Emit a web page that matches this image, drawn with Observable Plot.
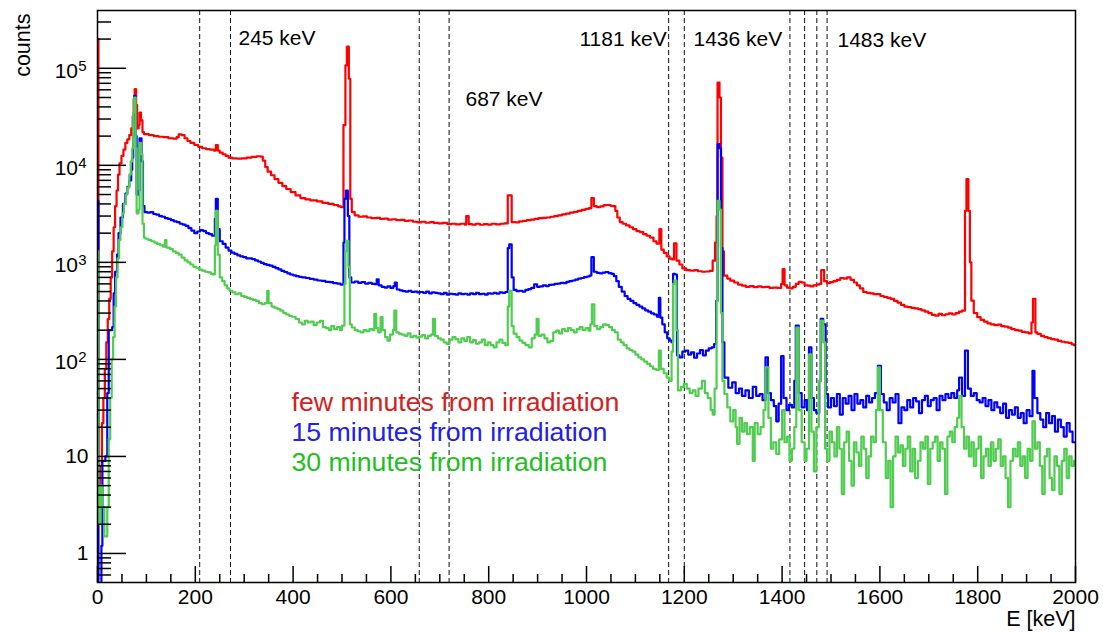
<!DOCTYPE html>
<html><head><meta charset="utf-8">
<script src="https://cdn.jsdelivr.net/npm/d3@7"></script>
<script src="https://cdn.jsdelivr.net/npm/@observablehq/plot@0.6"></script>
<style>html,body{margin:0;padding:0;background:#fff}svg{display:block}</style>
</head><body><div id="chart"></div>
<script>
// [bin start keV, counts] — histogram steps
const redSpectrum = [[0,2.0e5],[2,3],[5,8],[9,22],[12,40],[15,80],[18,150],[21,260],[24,420],[27,700],[30,1300],[33,2300],[36,3800],[39,5500],[42,8000],[45,1.05e4],[49,1.25e4],[53,1.45e4],[57,1.7e4],[61,1.85e4],[65,2.05e4],[69,2.4e4],[72,3.2e4],[74,4.8e4],[76,6.1e4],[79,4.2e4],[81,2.4e4],[84,2.6e4],[86,3.5e4],[89,2.9e4],[92,2.2e4],[95,2.1e4],[105,2.05e4],[115,2.0e4],[125,1.97e4],[135,1.95e4],[145,1.9e4],[155,1.88e4],[162,1.95e4],[166,2.08e4],[172,2.05e4],[178,1.9e4],[184,1.78e4],[190,1.7e4],[198,1.62e4],[206,1.55e4],[214,1.5e4],[222,1.47e4],[230,1.45e4],[238,1.42e4],[242,1.62e4],[246,1.42e4],[250,1.35e4],[256,1.3e4],[262,1.25e4],[268,1.2e4],[275,1.18e4],[285,1.17e4],[295,1.18e4],[305,1.2e4],[315,1.22e4],[325,1.24e4],[333,1.23e4],[338,1.12e4],[343,9.6e3],[348,8.6e3],[355,7.9e3],[362,7.2e3],[370,6.6e3],[378,6.1e3],[386,5.7e3],[395,5.3e3],[405,4.9e3],[415,4.6e3],[425,4.45e3],[435,4.35e3],[449,4.25e3],[460,4.1e3],[472,4.0e3],[483,3.9e3],[492,3.78e3],[498,3.7e3],[503,2.6e4],[507,1.07e5],[510,1.67e5],[514,7.8e4],[517,4.5e3],[520,3.3e3],[526,3.05e3],[534,2.95e3],[542,2.98e3],[551,2.9e3],[560,2.85e3],[570,2.88e3],[578,2.8e3],[586,2.82e3],[594,2.75e3],[602,2.78e3],[611,2.72e3],[620,2.74e3],[628,2.68e3],[636,2.7e3],[645,2.62e3],[654,2.58e3],[662,2.62e3],[671,2.56e3],[680,2.6e3],[688,2.55e3],[697,2.52e3],[706,2.55e3],[715,2.48e3],[724,2.5e3],[733,2.46e3],[742,2.5e3],[751,2.45e3],[754,3.0e3],[759,2.48e3],[766,2.45e3],[774,2.5e3],[782,2.44e3],[790,2.48e3],[798,2.45e3],[806,2.5e3],[815,2.46e3],[824,2.5e3],[832,2.52e3],[839,4.9e3],[847,2.6e3],[855,2.58e3],[862,2.65e3],[870,2.68e3],[878,2.72e3],[886,2.76e3],[894,2.8e3],[902,2.85e3],[910,2.88e3],[918,2.9e3],[926,2.95e3],[934,3.0e3],[942,3.05e3],[950,3.12e3],[958,3.18e3],[966,3.25e3],[974,3.32e3],[982,3.4e3],[990,3.48e3],[998,3.55e3],[1005,3.62e3],[1010,4.6e3],[1015,3.8e3],[1021,3.7e3],[1028,3.78e3],[1035,3.88e3],[1042,3.9e3],[1049,3.82e3],[1055,3.8e3],[1059,3.4e3],[1063,2.9e3],[1068,2.6e3],[1074,2.5e3],[1081,2.4e3],[1088,2.3e3],[1095,2.2e3],[1102,2.1e3],[1109,2.05e3],[1116,1.95e3],[1123,1.88e3],[1130,1.8e3],[1137,1.65e3],[1143,1.56e3],[1149,2.2e3],[1153,1.35e3],[1158,1.25e3],[1164,1.15e3],[1170,1.09e3],[1175,1.07e3],[1179,1.57e3],[1184,1.04e3],[1190,950],[1196,865],[1204,830],[1212,820],[1220,830],[1228,810],[1236,800],[1244,805],[1252,815],[1258,1.04e3],[1263,1.6e3],[1266,3.0e3],[1268,7.1e4],[1272,5.0e4],[1275,1.2e4],[1278,1.3e3],[1281,730],[1288,680],[1294,648],[1302,620],[1310,590],[1318,575],[1326,560],[1334,570],[1342,555],[1350,565],[1358,555],[1366,560],[1374,545],[1382,550],[1390,545],[1398,600],[1401,850],[1405,580],[1410,548],[1416,540],[1422,560],[1428,600],[1434,630],[1440,620],[1446,580],[1452,575],[1458,565],[1464,580],[1470,590],[1476,600],[1480,830],[1486,640],[1492,610],[1498,625],[1505,640],[1512,660],[1519,690],[1526,680],[1533,700],[1540,660],[1547,620],[1553,580],[1559,540],[1566,495],[1573,485],[1580,480],[1587,470],[1594,470],[1601,450],[1608,440],[1615,430],[1622,420],[1629,400],[1636,385],[1643,365],[1650,350],[1657,345],[1664,340],[1671,335],[1678,330],[1685,320],[1692,310],[1699,300],[1706,288],[1713,282],[1720,295],[1727,285],[1734,292],[1741,298],[1748,290],[1755,300],[1762,310],[1768,318],[1774,3.4e3],[1777,7.2e3],[1781,3.4e3],[1784,1.0e3],[1787,403],[1792,300],[1799,272],[1806,255],[1813,245],[1820,235],[1827,230],[1834,225],[1841,228],[1848,220],[1855,218],[1862,212],[1869,205],[1876,200],[1883,198],[1890,192],[1897,190],[1904,185],[1910,240],[1913,420],[1918,190],[1922,183],[1929,175],[1936,170],[1943,166],[1950,162],[1957,160],[1964,155],[1971,152],[1978,150],[1985,148],[1992,143],[1997,140],[2000,140]];

const blueSpectrum = [[0,4.3e3],[2,0.3],[8,1.2],[10,9],[16,10],[20,45],[23,200],[30,215],[33,480],[36,800],[40,1.2e3],[43,2.0e3],[47,2.9e3],[52,4.0e3],[57,5.1e3],[61,6.0e3],[65,7.0e3],[69,9.0e3],[71,1.2e4],[73,3.0e4],[75,5.2e4],[78,2.0e4],[80,5.0e3],[84,5.5e3],[86,1.9e4],[90,1.1e4],[93,3.8e3],[96,3.3e3],[102,3.25e3],[108,3.3e3],[114,3.15e3],[120,3.1e3],[126,3.0e3],[132,2.95e3],[138,2.85e3],[144,2.8e3],[150,2.72e3],[156,2.65e3],[162,2.6e3],[168,2.5e3],[174,2.45e3],[180,2.38e3],[186,2.25e3],[192,2.12e3],[198,2.0e3],[204,2.08e3],[210,2.15e3],[216,2.1e3],[222,2.0e3],[228,1.95e3],[234,1.88e3],[240,2.8e3],[242,4.5e3],[246,2.2e3],[250,1.65e3],[256,1.55e3],[262,1.42e3],[268,1.32e3],[274,1.26e3],[280,1.22e3],[286,1.18e3],[292,1.15e3],[298,1.13e3],[304,1.1e3],[310,1.1e3],[316,1.08e3],[322,1.05e3],[328,1.02e3],[334,990],[340,960],[346,940],[352,925],[358,900],[364,870],[370,845],[376,815],[382,795],[388,770],[394,750],[400,735],[406,720],[412,710],[418,700],[426,690],[434,675],[442,665],[450,650],[458,645],[466,630],[474,625],[482,610],[490,605],[497,590],[503,1.6e3],[505,4.5e3],[508,5.5e3],[512,3.0e3],[515,700],[519,620],[526,635],[533,615],[540,625],[547,605],[554,615],[561,600],[567,595],[571,670],[575,580],[581,560],[587,550],[593,565],[599,545],[605,570],[608,620],[612,525],[618,515],[624,505],[630,500],[636,510],[642,495],[648,500],[654,490],[660,495],[666,485],[672,500],[678,480],[684,490],[690,485],[696,480],[702,470],[708,485],[714,465],[720,475],[726,470],[732,465],[738,480],[744,470],[750,475],[756,465],[762,480],[768,470],[774,485],[780,470],[786,475],[792,465],[798,480],[804,475],[810,485],[816,475],[822,490],[828,485],[834,495],[839,1.4e3],[842,1.53e3],[847,700],[851,520],[857,505],[863,510],[869,500],[875,520],[881,530],[887,545],[893,595],[899,560],[905,565],[911,580],[917,570],[923,585],[929,590],[935,600],[941,605],[947,615],[953,610],[959,630],[965,640],[971,650],[977,665],[983,680],[989,690],[995,705],[1001,715],[1006,730],[1010,1.13e3],[1015,800],[1021,780],[1027,770],[1033,785],[1039,795],[1045,775],[1051,760],[1056,720],[1061,640],[1066,560],[1072,500],[1078,450],[1084,420],[1090,400],[1096,380],[1102,365],[1108,350],[1114,335],[1120,320],[1126,310],[1132,298],[1138,290],[1144,275],[1148,430],[1151,270],[1155,230],[1160,190],[1165,165],[1170,156],[1174,150],[1177,760],[1181,750],[1185,110],[1190,105],[1196,120],[1202,123],[1208,112],[1214,118],[1220,104],[1226,115],[1232,125],[1238,110],[1244,123],[1250,130],[1256,133],[1261,144],[1265,400],[1268,1.65e4],[1272,1.5e4],[1275,1.4e3],[1278,150],[1282,65],[1290,51],[1298,58],[1305,45],[1312,50],[1318,42],[1325,48],[1332,40],[1340,52],[1347,42],[1354,44],[1360,38],[1366,105],[1371,45],[1377,38],[1383,33],[1388,23],[1393,35],[1398,108],[1403,40],[1409,30],[1414,34],[1420,32],[1425,60],[1428,223],[1434,45],[1440,32],[1446,38],[1451,30],[1455,133],[1460,40],[1465,30],[1470,28],[1476,60],[1479,262],[1484,230],[1489,44],[1494,32],[1500,40],[1506,33],[1512,44],[1518,27],[1524,40],[1530,35],[1536,42],[1542,30],[1548,44],[1554,35],[1560,38],[1566,32],[1572,42],[1578,36],[1584,40],[1590,45],[1596,86],[1602,44],[1608,36],[1614,30],[1620,40],[1626,36],[1632,44],[1638,22],[1644,32],[1650,30],[1656,38],[1662,32],[1668,40],[1674,37],[1680,28],[1686,38],[1692,42],[1698,33],[1704,38],[1710,40],[1716,30],[1722,42],[1728,38],[1734,44],[1740,40],[1746,45],[1752,40],[1758,48],[1762,65],[1768,42],[1774,123],[1780,50],[1786,42],[1792,45],[1798,38],[1804,36],[1810,40],[1816,33],[1822,38],[1828,30],[1834,36],[1840,32],[1846,28],[1852,35],[1858,25],[1864,30],[1870,27],[1876,32],[1882,25],[1888,28],[1894,22],[1900,30],[1906,26],[1912,76],[1916,40],[1922,28],[1928,24],[1934,20],[1940,28],[1946,22],[1952,26],[1958,18],[1964,24],[1970,20],[1976,16],[1982,22],[1988,18],[1994,14],[2000,14]];

const greenSpectrum = [[0,1.3e3],[2,2],[6,5],[10,3],[14,1.5],[17,1.5],[20,3],[23,15],[26,40],[29,100],[32,170],[35,350],[38,700],[41,1.1e3],[44,1.7e3],[47,2.3e3],[51,3.2e3],[54,4.0e3],[58,5.0e3],[61,5.9e3],[65,8.0e3],[68,1.1e4],[71,1.5e4],[73,3.5e4],[75,5.0e4],[78,1.5e4],[80,3.2e3],[84,3.5e3],[86,1.7e4],[89,1.3e4],[92,2.5e3],[95,1.8e3],[98,1.75e3],[104,1.7e3],[110,1.65e3],[116,1.6e3],[122,1.55e3],[128,1.5e3],[134,1.45e3],[138,1.7e3],[141,1.42e3],[148,1.38e3],[154,1.3e3],[160,1.25e3],[166,1.2e3],[172,1.12e3],[178,1.05e3],[184,1.0e3],[190,950],[196,900],[202,880],[208,840],[214,820],[220,800],[226,790],[232,760],[236,750],[240,1.5e3],[242,3.4e3],[246,1.2e3],[250,700],[255,640],[260,580],[265,540],[270,510],[276,490],[282,470],[288,480],[294,450],[300,440],[306,430],[312,420],[318,410],[324,400],[330,380],[336,370],[342,380],[347,510],[350,380],[356,350],[362,340],[368,330],[374,318],[380,300],[386,290],[392,280],[398,275],[405,262],[412,240],[418,230],[424,250],[430,240],[436,245],[442,225],[448,240],[455,250],[461,215],[467,210],[473,200],[478,220],[484,205],[490,215],[496,200],[500,223],[505,600],[507,1.3e3],[509,1.67e3],[513,900],[516,230],[520,213],[526,200],[532,195],[538,190],[544,200],[550,195],[556,205],[562,200],[566,295],[570,210],[574,190],[579,272],[583,200],[588,170],[593,156],[598,180],[604,200],[607,318],[611,190],[616,184],[622,180],[628,175],[634,185],[640,170],[646,175],[652,168],[658,172],[664,178],[670,165],[676,175],[682,180],[686,262],[690,175],[696,165],[702,160],[708,150],[714,144],[720,160],[726,170],[732,162],[738,150],[744,165],[750,155],[756,170],[762,150],[768,158],[774,145],[780,150],[786,160],[792,140],[798,150],[804,140],[810,133],[816,150],[822,160],[828,148],[834,140],[839,350],[842,510],[847,220],[851,184],[857,170],[863,156],[869,148],[875,140],[882,133],[888,165],[894,180],[898,262],[902,175],[908,180],[914,165],[920,150],[926,155],[932,190],[938,198],[944,185],[950,205],[956,195],[962,210],[968,200],[974,190],[980,205],[986,215],[992,200],[998,210],[1004,198],[1008,230],[1011,370],[1016,220],[1022,205],[1028,215],[1034,230],[1040,225],[1046,215],[1052,200],[1058,190],[1064,160],[1070,150],[1076,140],[1082,130],[1088,125],[1094,120],[1100,112],[1106,105],[1112,100],[1118,95],[1124,90],[1130,85],[1136,80],[1142,78],[1148,123],[1152,80],[1158,72],[1164,65],[1169,60],[1174,120],[1177,600],[1180,648],[1184,200],[1187,48],[1193,52],[1199,56],[1205,50],[1211,45],[1217,48],[1223,42],[1229,50],[1236,60],[1242,45],[1248,40],[1254,30],[1258,27],[1262,50],[1266,400],[1268,4.3e3],[1272,3.5e3],[1275,300],[1278,60],[1282,44],[1288,32],[1294,23],[1300,30],[1305,20],[1308,13.5],[1313,25],[1318,18],[1323,22],[1328,17],[1334,20],[1340,9],[1344,22],[1350,17],[1356,20],[1362,30],[1366,83],[1372,25],[1377,12],[1382,14],[1388,10.6],[1394,15],[1400,30],[1405,14],[1410,16],[1415,9],[1420,12],[1425,20],[1429,213],[1434,30],[1440,14],[1446,9],[1450,12],[1455,113],[1460,18],[1465,7],[1470,20],[1475,60],[1479,251],[1484,150],[1488,12],[1492,9],[1497,18],[1502,14],[1507,10],[1512,20],[1517,12],[1522,4.1],[1527,14],[1532,18],[1537,9],[1542,5],[1547,14],[1552,11],[1557,8],[1562,16],[1567,12],[1572,6],[1577,10],[1582,16],[1587,14],[1592,30],[1596,83],[1600,30],[1606,14],[1612,6],[1617,9],[1622,3.0],[1627,10],[1632,16],[1637,11],[1642,13],[1647,8],[1652,12],[1657,16],[1662,7],[1667,12],[1672,6],[1678,9],[1683,14],[1688,12],[1693,16],[1698,5.2],[1703,12],[1708,14],[1713,16],[1718,9],[1723,14],[1728,12],[1733,4.1],[1738,16],[1743,18],[1748,14],[1753,20],[1758,25],[1762,42],[1767,20],[1772,12],[1777,16],[1782,10],[1787,14],[1792,8],[1797,12],[1802,16],[1807,6],[1812,10],[1817,12],[1822,8],[1827,14],[1832,9],[1837,12],[1842,15],[1847,8],[1852,10],[1857,6],[1862,3.0],[1867,9],[1872,12],[1877,10],[1882,14],[1887,8],[1892,10],[1897,6],[1902,12],[1907,9],[1912,23],[1917,12],[1922,14],[1927,8],[1932,4.1],[1937,10],[1942,12],[1947,6],[1952,4.5],[1957,10],[1962,8],[1967,4.1],[1972,9],[1977,12],[1982,6],[1987,10],[1992,8],[1997,9],[2000,9]];

const windowEdges = [209, 272, 658, 719, 1168, 1200, 1416, 1446, 1471, 1492];
const peakLabels = ["245 keV", "687 keV", "1181 keV", "1436 keV", "1483 keV"];
const legendLabels = ["few minutes from irradiation", "15 minutes from irradiation", "30 minutes from irradiation"];
const xTickValues = [0, 200, 400, 600, 800, 1000, 1200, 1400, 1600, 1800, 2000];
const yTickValues = [1, 10, 100, 1000, 10000, 100000];
const yTickBase = ["1", "10", "10", "10", "10", "10"];
const yTickExp = ["", "", "2", "3", "4", "5"];

const W = 1103, H = 633, mL = 97, mR = 28, mT = 10, mB = 51;
const innerW = W - mL - mR, innerH = H - mT - mB;
const font = "'Liberation Sans', Arimo, Arial, Helvetica, sans-serif";

const rows = arr => arr.map(([e, c]) => ({e, c}));
const xMinor = d3.range(0, 2001, 50).filter(v => v % 200 !== 0);
const yMinor = [];
for (const dec of [0.1, 1, 10, 100, 1000, 1e4, 1e5]) for (let k = 2; k <= 9; k++) { const v = dec * k; if (v > 0.505 && v < 3.9e5) yMinor.push(v); }
const yLab = yTickValues.map((v, i) => ({v, base: yTickBase[i], exp: yTickExp[i]}));

const colors = {red: "#ff0000", blue: "#0000ff", green: "#50cd50"};
const textColors = ["#d42020", "#2020e8", "#1fbf1f"];
const labelPos = [[141, 28], [368, 89], [482, 28.5], [596, 28.5], [740, 29.5]];

const marks = [
  Plot.ruleX(windowEdges, {x: d => d, stroke: "#111", strokeWidth: 1, strokeDasharray: "5,3"}),
  Plot.line(rows(redSpectrum), {x: "e", y: "c", curve: "step-after", stroke: colors.red, strokeWidth: 2.2, clip: true}),
  Plot.line(rows(blueSpectrum), {x: "e", y: "c", curve: "step-after", stroke: colors.blue, strokeWidth: 2.2, clip: true}),
  Plot.line(rows(greenSpectrum), {x: "e", y: "c", curve: "step-after", stroke: colors.green, strokeWidth: 2.2, clip: true}),
  Plot.tickX(xTickValues, {x: d => d, insetTop: innerH - 16, stroke: "black", strokeWidth: 1.5}),
  Plot.tickX(xMinor, {x: d => d, insetTop: innerH - 8, stroke: "black", strokeWidth: 1.5}),
  Plot.tickY(yTickValues, {y: d => d, insetRight: innerW - 29, stroke: "black", strokeWidth: 1.5}),
  Plot.tickY(yMinor, {y: d => d, insetRight: innerW - 14, stroke: "black", strokeWidth: 1.5}),
  Plot.text(xTickValues, {x: d => d, text: d => String(d), frameAnchor: "bottom", dy: 15, lineAnchor: "middle", fontSize: 21, fill: "black"}),
  Plot.text(yLab.filter(d => !d.exp), {y: "v", text: "base", frameAnchor: "left", textAnchor: "end", dx: -9, lineAnchor: "middle", fontSize: 21, fill: "black"}),
  Plot.text(yLab.filter(d => d.exp), {y: "v", text: "base", frameAnchor: "left", textAnchor: "end", dx: -19.5, dy: 3, lineAnchor: "middle", fontSize: 21, fill: "black"}),
  Plot.text(yLab.filter(d => d.exp), {y: "v", text: "exp", frameAnchor: "left", textAnchor: "end", dx: -11, dy: -2.5, lineAnchor: "middle", fontSize: 15, fill: "black"}),
  Plot.text(["E [keV]"], {text: d => d, frameAnchor: "bottom-right", textAnchor: "end", dy: 37, lineAnchor: "middle", fontSize: 21.5, fill: "black"}),
  Plot.text(["counts"], {text: d => d, frameAnchor: "top-left", textAnchor: "end", rotate: -90, dx: -74, dy: 3, lineAnchor: "middle", fontSize: 21.5, fill: "black"}),
  ...peakLabels.map((t, i) => Plot.text([t], {text: d => d, frameAnchor: "top-left", textAnchor: "start", dx: labelPos[i][0], dy: labelPos[i][1], lineAnchor: "middle", fontSize: 21, fill: "black"})),
  ...legendLabels.map((t, i) => Plot.text([t], {text: d => d, frameAnchor: "top-left", textAnchor: "start", dx: 194, dy: 392 + 30 * i, lineAnchor: "middle", fontSize: 26.7, fill: textColors[i]})),
  Plot.frame({stroke: "black", strokeWidth: 1.5})
];

const chart = Plot.plot({
  width: W, height: H,
  marginLeft: mL, marginRight: mR, marginTop: mT, marginBottom: mB,
  x: {domain: [0, 2000], axis: null},
  y: {type: "log", domain: [0.502, 3.94e5], axis: null},
  style: {fontFamily: font, background: "white", color: "black", overflow: "visible"},
  marks
});
document.getElementById("chart").appendChild(chart);
</script>
</body></html>
